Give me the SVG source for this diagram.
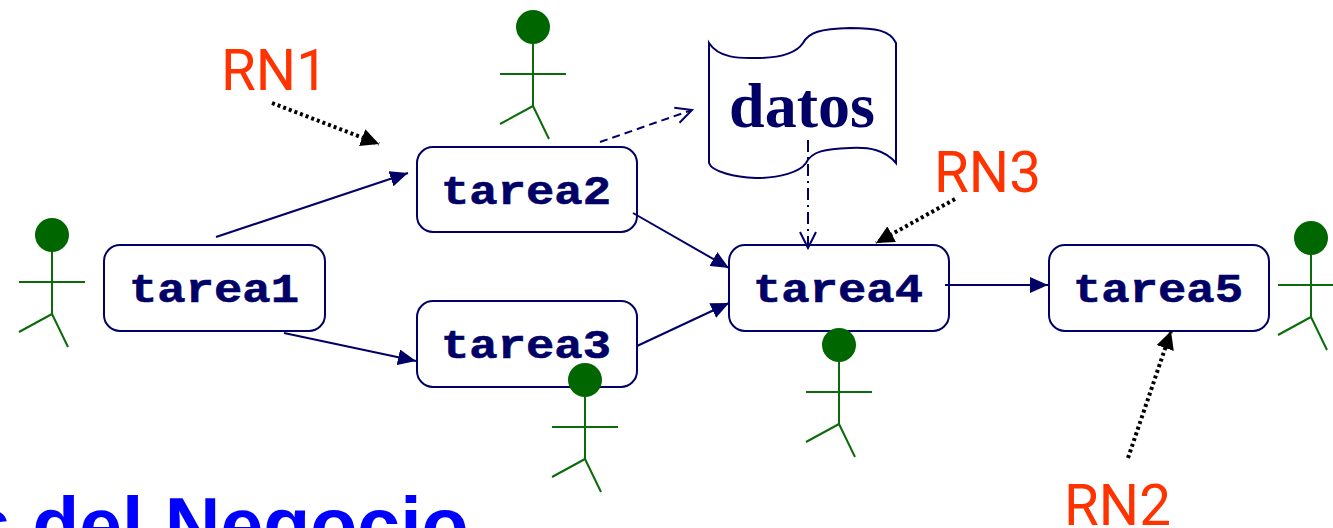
<svg xmlns="http://www.w3.org/2000/svg" width="1333" height="528" viewBox="0 0 1333 528">
<style>
.box{fill:#fff;stroke:#000066;stroke-width:2}
.task{font-family:"Liberation Mono",monospace;font-weight:700;font-size:41px;fill:#000066;stroke:#000066;stroke-width:.6;text-anchor:middle}
.rn{font-family:"Roboto","Liberation Sans",sans-serif;font-size:58px;fill:#ff3300}
.c{fill:none;stroke:#000066;stroke-width:2}
.k{fill:none;stroke:#000;stroke-width:4;stroke-dasharray:3 3}
.a line,.a path{fill:none;stroke:#0b6b0b;stroke-width:2}
.a circle{fill:#006600}
</style>
<defs>
<marker id="ah" markerUnits="userSpaceOnUse" markerWidth="20" markerHeight="16" refX="18" refY="8" orient="auto"><path d="M0 0L18 8L0 16Z" fill="#000066"/></marker>
<marker id="bh" markerUnits="userSpaceOnUse" markerWidth="20" markerHeight="18" refX="18" refY="9" orient="auto"><path d="M0 0L18 9L0 18Z" fill="#000"/></marker>
<marker id="oh" markerUnits="userSpaceOnUse" markerWidth="20" markerHeight="20" refX="18" refY="10" orient="auto"><path d="M2 2L18 10L2 18" fill="none" stroke="#000066" stroke-width="2"/></marker>
<g id="actor" class="a"><line x1="0" y1="17" x2="0" y2="79"/><line x1="-33" y1="47" x2="33" y2="47"/><path d="M-33 97L0 79L16 112"/><circle cx="0" cy="0" r="17"/></g>
</defs>
<g id="node-tarea1"><rect class="box" x="104" y="245" width="221" height="86" rx="16"/><text class="task" x="214" y="302" textLength="170" lengthAdjust="spacingAndGlyphs">tarea1</text></g>
<g id="node-tarea2"><rect class="box" x="417" y="147" width="220" height="85" rx="16"/><text class="task" x="526" y="204" textLength="170" lengthAdjust="spacingAndGlyphs">tarea2</text></g>
<g id="node-tarea3"><rect class="box" x="417" y="301" width="220" height="86" rx="16"/><text class="task" x="526" y="358" textLength="170" lengthAdjust="spacingAndGlyphs">tarea3</text></g>
<g id="node-tarea4"><rect class="box" x="729" y="245" width="220" height="86" rx="16"/><text class="task" x="838" y="302" textLength="170" lengthAdjust="spacingAndGlyphs">tarea4</text></g>
<g id="node-tarea5"><rect class="box" x="1049" y="245" width="220" height="86" rx="16"/><text class="task" x="1158" y="302" textLength="170" lengthAdjust="spacingAndGlyphs">tarea5</text></g>
<g id="node-datos"><path d="M709 43C720 60 745 58 756 58C775 58 795 55 803 43C809 32 820 29 850 28C875 28 890 30 896 43V163C885 150 870 147 850 148C825 149 812 151 806 163C800 172 780 178 756 178C735 177 712 172 709 163Z" fill="#fff" stroke="#000066" stroke-width="2"/><text x="802" y="127" font-family="Liberation Serif,serif" font-weight="700" font-size="64" fill="#000066" text-anchor="middle">datos</text></g>
<g id="connectors">
<line class="c" x1="216" y1="237" x2="408" y2="173" marker-end="url(#ah)"/>
<line class="c" x1="284" y1="333" x2="416" y2="361" marker-end="url(#ah)"/>
<line class="c" x1="633" y1="213" x2="729" y2="268" marker-end="url(#ah)"/>
<line class="c" x1="637" y1="346" x2="729" y2="303" marker-end="url(#ah)"/>
<line class="c" x1="945" y1="285" x2="1048" y2="285" marker-end="url(#ah)"/>
<line class="c" x1="600" y1="142" x2="692" y2="110" stroke-dasharray="8 5" marker-end="url(#oh)"/>
<line class="c" x1="808" y1="140" x2="808" y2="248" stroke-dasharray="12 5 2 5" marker-end="url(#oh)"/>
<line class="k" x1="272" y1="103" x2="379" y2="144" marker-end="url(#bh)"/>
<line class="k" x1="955" y1="199" x2="876" y2="243" marker-end="url(#bh)"/>
<line class="k" x1="1128" y1="458" x2="1171" y2="331" marker-end="url(#bh)"/>
</g>
<g id="actor1"><use href="#actor" x="52" y="235"/></g>
<g id="actor2"><use href="#actor" x="533" y="27"/></g>
<g id="actor3"><use href="#actor" x="585" y="380"/></g>
<g id="actor4"><use href="#actor" x="839" y="345"/></g>
<g id="actor5"><use href="#actor" x="1311" y="238"/></g>
<text class="rn" x="221" y="90" textLength="107" lengthAdjust="spacingAndGlyphs">RN1</text>
<text class="rn" x="934" y="192" textLength="107" lengthAdjust="spacingAndGlyphs">RN3</text>
<text class="rn" x="1064" y="525" textLength="107" lengthAdjust="spacingAndGlyphs">RN2</text>
<text x="-32" y="552" font-family="Liberation Sans,sans-serif" font-weight="700" font-size="77" fill="#0000ff">s del Negocio</text>
</svg>
